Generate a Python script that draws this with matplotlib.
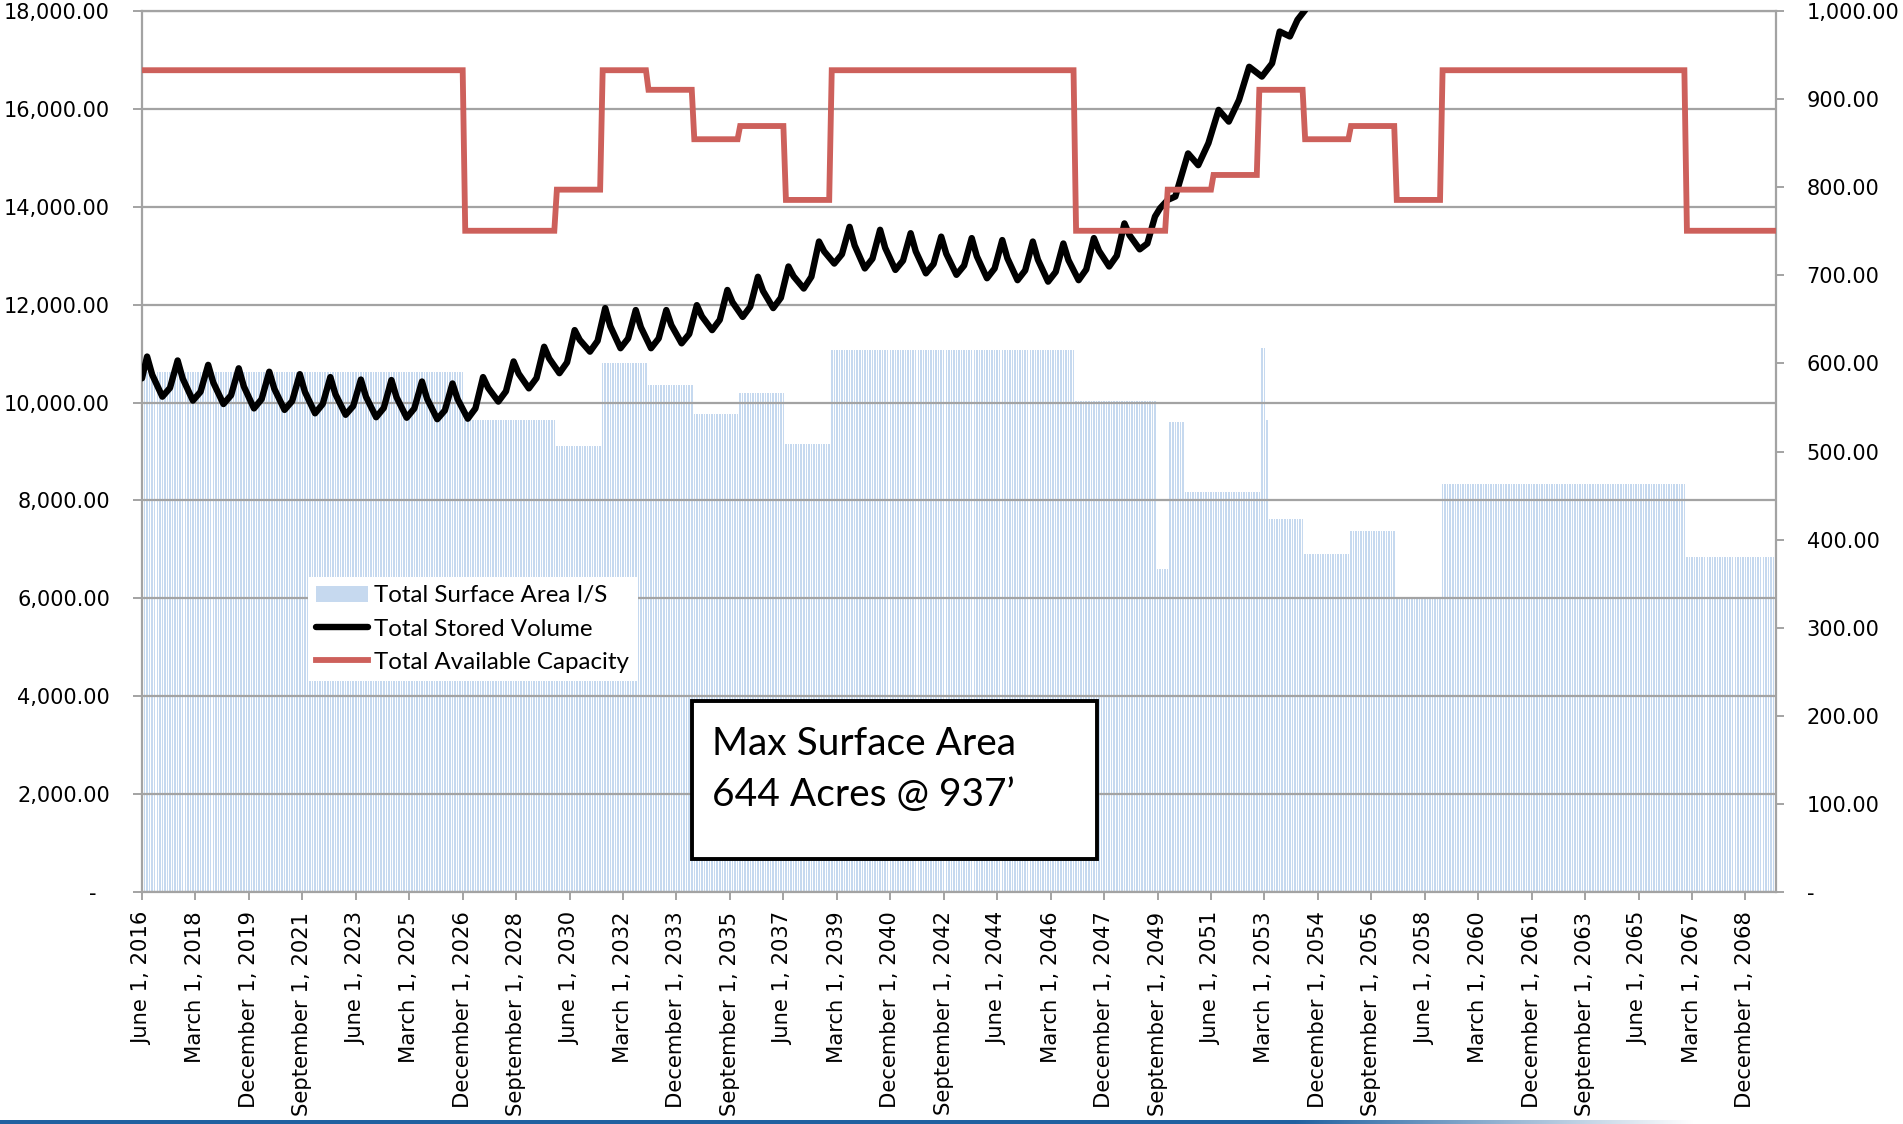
import numpy as np
import pandas as pd
import matplotlib
matplotlib.use("Agg")
import matplotlib.pyplot as plt
import matplotlib.colors as mcolors
from matplotlib.patches import Rectangle
from matplotlib.ticker import FixedLocator, FuncFormatter

# ---------------------------------------------------------------- data
# Monthly timeline, June 2016 through December 2069
dates = pd.date_range("2016-06-01", "2069-12-01", freq="MS")
tick_step = 21  # one date label every 21 months

# Total Available Capacity (acre-feet): step levels and months each level holds
capacity_levels = [16790, 13510, 14350, 16790, 16390, 15380, 15650, 14140,
                   16790, 13510, 14350, 14650, 16390, 15380, 15650, 14140,
                   16790, 13510]
capacity_months = [127, 36, 18, 18, 18, 18, 18, 18,
                   96, 36, 18, 18, 18, 18, 18, 18,
                   96, 36]

# Total Surface Area I/S (acres): levels and months each level holds
area_levels = [590, 536, 506, 601, 575, 542, 566, 508, 615, 557, 367,
               533, 454, 617, 536, 423, 384, 410, 335, 463, 380]
area_months = [127, 36, 18, 18, 18, 18, 18, 18, 96, 32, 5,
               6, 30, 2, 1, 14, 18, 18, 18, 96, 36]

# Total Stored Volume (acre-feet), one seasonal cycle per year:
# August high, October shoulder, February low, May rise
volume_start = 10495
volume_high = [10940, 10860, 10770, 10700, 10630, 10580, 10520, 10470, 10460,
               10430, 10390, 10520, 10840, 11140, 11480, 11930, 11890, 11890,
               11990, 12300, 12570, 12780, 13290, 13590, 13530, 13460, 13390,
               13360, 13320, 13290, 13250, 13360, 13660]
volume_shoulder = [10570, 10490, 10410, 10330, 10280, 10220, 10170, 10120, 10110,
                   10080, 10070, 10300, 10590, 10900, 11280, 11560, 11540, 11580,
                   11760, 12050, 12280, 12580, 13090, 13210, 13160, 13090, 13040,
                   12990, 12950, 12920, 12910, 13100, 13420]
volume_low = [10120, 10040, 9970, 9880, 9850, 9780, 9750, 9700, 9690,
              9660, 9670, 10020, 10290, 10600, 11040, 11110, 11110, 11210,
              11480, 11750, 11930, 12330, 12840, 12740, 12710, 12640, 12610,
              12540, 12500, 12470, 12500, 12780, 13130]
volume_rise = [10300, 10220, 10150, 10070, 10030, 9970, 9930, 9890, 9880,
               9840, 9880, 10230, 10500, 10820, 11260, 11310, 11310, 11400,
               11690, 11960, 12140, 12570, 13030, 12940, 12900, 12830, 12800,
               12740, 12700, 12670, 12720, 13000]
# Rapid growth after 2049 (month index, volume)
growth_month = [395, 398, 400, 403, 406, 411, 415, 419, 423, 427, 431, 435,
                440, 444, 447, 451, 454, 457, 460]
growth_volume = [13250, 13800, 13970, 14140, 14210, 15090, 14850, 15300, 15980,
                 15740, 16180, 16860, 16660, 16930, 17580, 17480, 17820, 18020,
                 18600]

series_labels = ["Total Surface Area I/S", "Total Stored Volume",
                 "Total Available Capacity"]
box_lines = ["Max Surface Area", "644 Acres @ 937\u2019"]

# ---------------------------------------------------------------- build series
n = len(dates)
months = np.arange(n)
capacity = np.repeat(capacity_levels, capacity_months)
area = np.repeat(area_levels, area_months)

vol_x, vol_y = [0], [volume_start]
for k in range(len(volume_high)):
    vol_x += [12 * k + 2, 12 * k + 4, 12 * k + 8]
    vol_y += [volume_high[k], volume_shoulder[k], volume_low[k]]
    if k < len(volume_rise):
        vol_x.append(12 * k + 11)
        vol_y.append(volume_rise[k])
vol_x += growth_month
vol_y += growth_volume

tick_pos = months[::tick_step]
tick_text = [f"{d.strftime('%B')} {d.day}, {d.year}" for d in dates[::tick_step]]

# ---------------------------------------------------------------- figure
W, H = 1903, 1124
fig = plt.figure(figsize=(W / 100, H / 100), dpi=100)
fig.patch.set_facecolor("white")

left, right, top, bottom = 142, 1776, 11, 892
ax1 = fig.add_axes([left / W, 1 - bottom / H, (right - left) / W, (bottom - top) / H])
ax2 = ax1.twinx()
ax1.set_zorder(2)
ax2.set_zorder(1)
ax1.patch.set_visible(False)

grey = "#a3a3a3"
bar_color = "#c6d9ef"
red = "#cd605b"

bars = ax2.bar(months, area, width=0.6, color=bar_color, linewidth=0,
               label=series_labels[0])
line_vol, = ax1.plot(vol_x, vol_y, color="black", lw=4.6,
                     solid_joinstyle="round", solid_capstyle="round",
                     label=series_labels[1], zorder=3)
line_cap, = ax1.plot(months, capacity, color=red, lw=4.2,
                     solid_joinstyle="miter", label=series_labels[2], zorder=4)

ax1.set_xlim(0, n - 1)
ax1.set_ylim(0, 18000)
ax2.set_ylim(0, 1000)

ax1.yaxis.set_major_locator(FixedLocator(np.arange(0, 18001, 2000)))
ax2.yaxis.set_major_locator(FixedLocator(np.arange(0, 1001, 100)))
ax1.yaxis.set_major_formatter(FuncFormatter(lambda v, p: "-  " if v == 0 else f"{v:,.2f}"))
ax2.yaxis.set_major_formatter(FuncFormatter(lambda v, p: "-" if v == 0 else f"{v:,.2f}"))

ax1.set_xticks(tick_pos)
ax1.set_xticklabels(tick_text, rotation=90, fontsize=15.2, family="DejaVu Sans")

ax1.yaxis.grid(True, color=grey, lw=1.6)
ax1.set_axisbelow(True)

for s in ["left", "bottom", "top"]:
    ax1.spines[s].set_color(grey)
    ax1.spines[s].set_linewidth(1.6)
ax1.spines["right"].set_visible(False)
for s in ["left", "bottom", "top"]:
    ax2.spines[s].set_visible(False)
ax2.spines["right"].set_color(grey)
ax2.spines["right"].set_linewidth(1.6)

ax1.tick_params(axis="y", direction="out", length=6.5, width=1.4, color=grey,
                pad=16.5, labelsize=15, labelcolor="black")
ax1.tick_params(axis="x", direction="out", length=6, width=1.4, color=grey,
                pad=8, labelcolor="black")
ax2.tick_params(axis="y", direction="out", length=6, width=1.4, color=grey,
                pad=16, labelsize=15, labelcolor="black")

# legend
leg = ax1.legend([bars, line_vol, line_cap], series_labels,
                 loc="upper left", bbox_to_anchor=(308 / W, 1 - 577 / H),
                 bbox_transform=fig.transFigure, borderaxespad=0,
                 frameon=True, fancybox=False, framealpha=1,
                 prop={"family": "Lato", "size": 17.4},
                 handlelength=2.15, handleheight=0.65, handletextpad=0.25,
                 labelspacing=0.5, borderpad=0.35)
leg.get_frame().set_edgecolor("none")
leg.get_frame().set_facecolor("white")

# annotation box
bx0, by0, bx1, by1 = 692, 701, 1097, 859
fig.add_artist(Rectangle((bx0 / W, 1 - by1 / H), (bx1 - bx0) / W, (by1 - by0) / H,
                         transform=fig.transFigure, facecolor="white",
                         edgecolor="black", lw=2.8, zorder=10))
fig.text(712 / W, 1 - 755 / H, box_lines[0], fontsize=28, family="Lato",
         va="baseline", ha="left", zorder=11)
fig.text(712 / W, 1 - 806 / H, box_lines[1], fontsize=28, family="Lato",
         va="baseline", ha="left", zorder=11)

# accent rule along the bottom edge
strip = fig.add_axes([0, 0, 1, 4 / H])
xs = np.linspace(0, 1, W)
fade = np.clip((xs - 0.68) / (0.89 - 0.68), 0, 1)
base = np.array(mcolors.to_rgb("#2161a0"))
rgb = base[None, :] * (1 - fade[:, None]) + fade[:, None]
strip.imshow(rgb[None, :, :], aspect="auto", extent=[0, 1, 0, 1])
strip.axis("off")

fig.savefig("out.png", dpi=100)
